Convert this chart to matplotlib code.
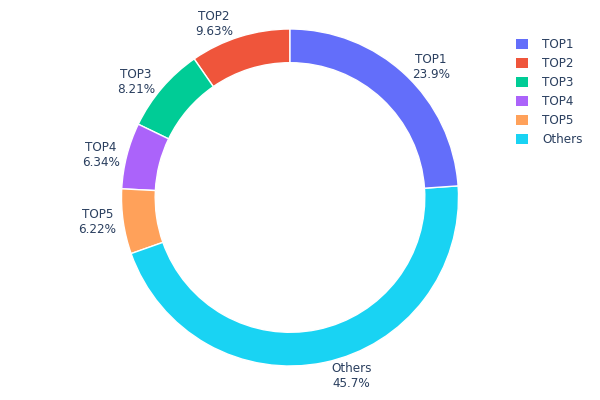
import matplotlib
matplotlib.use("Agg")
import matplotlib.pyplot as plt
from matplotlib.patches import Patch
import numpy as np

labels = ["TOP1", "TOP2", "TOP3", "TOP4", "TOP5", "Others"]
values = [23.9, 9.63, 8.21, 6.34, 6.22, 45.7]
colors = ["#636efa", "#EF553B", "#00cc96", "#ab63fa", "#FFA15A", "#19d3f3"]
pct_text = ["23.9%", "9.63%", "8.21%", "6.34%", "6.22%", "45.7%"]

# drawing order (counter-clockwise from 12 o'clock)
order = [1, 2, 3, 4, 5, 0]

plt.rcParams['font.family'] = ['DejaVu Sans']
fig = plt.figure(figsize=(6, 4), dpi=100)
R = 168.5
cx, cy = 290, 197.5
left_px, right_px = cx - 220, cx + 220
top_px, bot_px = cy - 190, cy + 190
ax = fig.add_axes([left_px / 600, (400 - bot_px) / 400,
                   (right_px - left_px) / 600, (bot_px - top_px) / 400])

wedges, _ = ax.pie([values[i] for i in order],
                   colors=[colors[i] for i in order],
                   startangle=90, counterclock=True, radius=1.0,
                   wedgeprops=dict(width=0.2, edgecolor='white', linewidth=1))
ax.set_aspect('auto')
ax.set_xlim(-220 / R, 220 / R)
ax.set_ylim(-190 / R, 190 / R)
ax.axis('off')
for w in wedges:
    w.set_clip_on(False)

fig.canvas.draw()
renderer = fig.canvas.get_renderer()
for w, i in zip(wedges, order):
    mid = np.deg2rad((w.theta1 + w.theta2) / 2)
    t = ax.text(0, 0, f"{labels[i]}\n{pct_text[i]}",
                ha='center', va='center', fontsize=8.64, color='#2a3f5f',
                linespacing=1.2, clip_on=False)
    bb = t.get_window_extent(renderer)
    # plotly-like outside text placement (in display pixels, y up)
    ex, ey = ax.transData.transform((np.cos(mid), np.sin(mid)))
    ox, oy = ax.transData.transform((0, 0))
    px, py = ex - ox, ey - oy
    dx = bb.width / 2 * (1 if px >= 0 else -1)
    dy = bb.height / 2 * (1 if py >= 0 else -1)
    offx = dx + abs(dy) / 2 * (1 if dx > 0 else -1)
    offy = dy / (1 + px * px / (py * py)) if py != 0 else 0
    tx, ty = ax.transData.inverted().transform((ex + offx, ey + offy))
    t.set_position((tx, ty))

handles = [Patch(facecolor=c, edgecolor='none') for c in colors]
fig.legend(handles, labels, loc='upper left',
           bbox_to_anchor=(516 / 600, 1 - 38 / 400), frameon=False,
           fontsize=8.64, labelcolor='#2a3f5f', handlelength=1.0,
           handleheight=1.0, handletextpad=1.17, labelspacing=0.5,
           borderaxespad=0, borderpad=0)

fig.savefig("out.png", dpi=100, facecolor='white')
